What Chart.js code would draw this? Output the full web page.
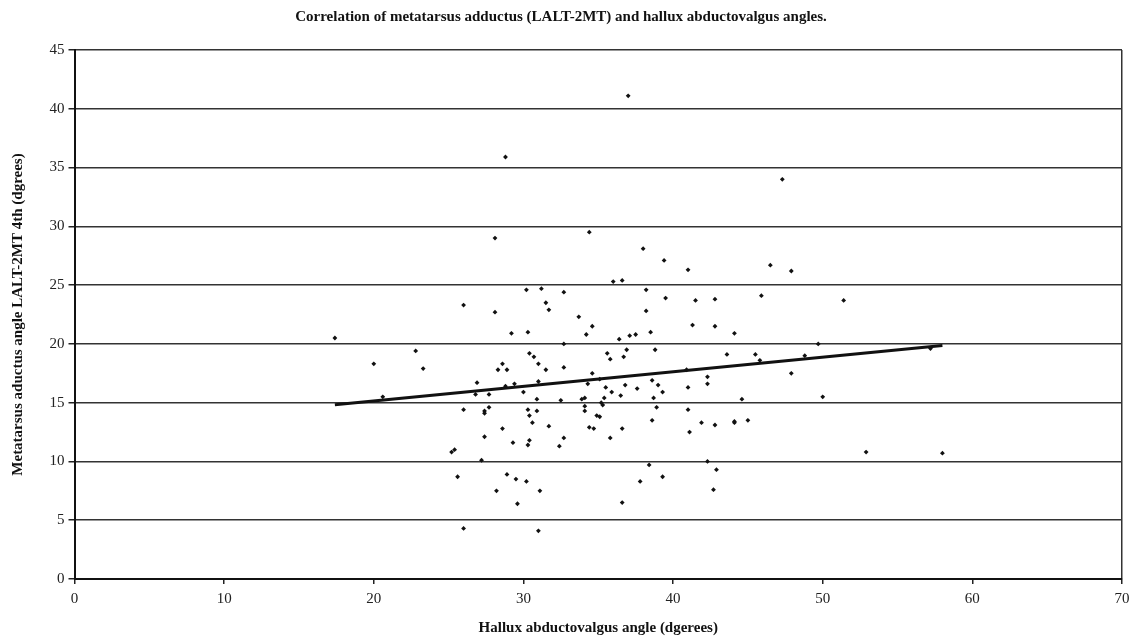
<!DOCTYPE html>
<html>
<head>
<meta charset="utf-8">
<script src="https://cdn.jsdelivr.net/npm/chart.js@4"></script>
<style>
  body { margin: 0; background: #fff; }
</style>
</head>
<body>
<canvas id="chartCanvas" width="1133" height="641"></canvas>
<script>
// Valores
const hallux = [
  28.8, 28.1, 37.0, 47.3, 34.4, 38.0, 39.4, 41.0, 46.5, 47.9,
  30.2, 31.2, 26.0, 28.1, 31.5, 31.7, 29.2, 30.3, 17.4, 22.8,
  20.0, 23.3, 30.4, 30.7, 31.0, 31.5, 28.6, 28.3, 28.9, 26.9,
  28.8, 29.4, 31.0, 26.8, 27.7, 30.0, 30.9, 20.6, 26.0, 27.4,
  27.4, 27.7, 30.3, 30.4, 30.9, 30.6, 28.6, 31.7, 27.4, 29.3,
  30.4, 30.3, 25.2, 25.4, 27.2, 25.6, 28.9, 29.5, 30.2, 28.2,
  31.1, 29.6, 26.0, 31.0, 36.0, 36.6, 32.7, 38.2, 39.5, 41.5,
  42.8, 45.9, 51.4, 33.7, 38.2, 34.6, 34.2, 41.3, 42.8, 44.1,
  38.5, 36.4, 37.1, 37.5, 32.7, 49.7, 35.6, 35.8, 36.9, 36.7,
  38.8, 43.6, 45.5, 45.8, 48.8, 32.7, 34.6, 35.1, 40.9, 42.3,
  42.3, 47.9, 34.3, 35.5, 36.8, 38.6, 39.0, 37.6, 41.0, 35.9,
  36.5, 39.3, 32.5, 33.9, 34.1, 35.4, 35.2, 35.3, 38.7, 44.6,
  50.0, 34.1, 34.1, 38.9, 41.0, 34.9, 35.1, 38.6, 41.9, 42.8,
  44.1, 44.1, 45.0, 34.4, 34.7, 36.6, 32.7, 32.4, 35.8, 41.1,
  52.9, 42.3, 38.4, 42.9, 37.8, 39.3, 42.7, 36.6, 58.0, 57.2
];
const metatarsus = [
  35.9, 29.0, 41.1, 34.0, 29.5, 28.1, 27.1, 26.3, 26.7, 26.2,
  24.6, 24.7, 23.3, 22.7, 23.5, 22.9, 20.9, 21.0, 20.5, 19.4,
  18.3, 17.9, 19.2, 18.9, 18.3, 17.8, 18.3, 17.8, 17.8, 16.7,
  16.4, 16.6, 16.8, 15.7, 15.7, 15.9, 15.3, 15.5, 14.4, 14.3,
  14.1, 14.6, 14.4, 13.9, 14.3, 13.3, 12.8, 13.0, 12.1, 11.6,
  11.8, 11.4, 10.8, 11.0, 10.1, 8.7, 8.9, 8.5, 8.3, 7.5,
  7.5, 6.4, 4.3, 4.1, 25.3, 25.4, 24.4, 24.6, 23.9, 23.7,
  23.8, 24.1, 23.7, 22.3, 22.8, 21.5, 20.8, 21.6, 21.5, 20.9,
  21.0, 20.4, 20.7, 20.8, 20.0, 20.0, 19.2, 18.7, 19.5, 18.9,
  19.5, 19.1, 19.1, 18.6, 19.0, 18.0, 17.5, 17.0, 17.8, 17.2,
  16.6, 17.5, 16.6, 16.3, 16.5, 16.9, 16.5, 16.2, 16.3, 15.9,
  15.6, 15.9, 15.2, 15.3, 15.4, 15.4, 15.0, 14.8, 15.4, 15.3,
  15.5, 14.7, 14.3, 14.6, 14.4, 13.9, 13.8, 13.5, 13.3, 13.1,
  13.4, 13.3, 13.5, 12.9, 12.8, 12.8, 12.0, 11.3, 12.0, 12.5,
  10.8, 10.0, 9.7, 9.3, 8.3, 8.7, 7.6, 6.5, 10.7, 19.6
];
// Linha de tendência (extremos)
const trendX = [17.4, 58.0];
const trendY = [14.83, 19.86];

const points = hallux.map((x, i) => ({ x: x, y: metatarsus[i] }));
const trend = trendX.map((x, i) => ({ x: x, y: trendY[i] }));

const serif = "'Liberation Serif', 'Times New Roman', serif";
Chart.defaults.font.family = serif;
Chart.defaults.color = '#222';

const ctx = document.getElementById('chartCanvas').getContext('2d');
new Chart(ctx, {
    type: 'scatter',
    data: {
        datasets: [{
            data: points,
            backgroundColor: '#111',
            borderColor: '#111',
            pointStyle: 'rectRot',
            pointRadius: 2.4,
            borderWidth: 0
        }, {
            data: trend,
            showLine: true,
            borderColor: '#111',
            borderWidth: 3,
            pointRadius: 0
        }]
    },
    options: {
        responsive: false,
        animation: false,
        layout: { padding: { left: 0, right: 11, top: 0, bottom: 0 } },
        plugins: {
            legend: { display: false },
            tooltip: { enabled: false },
            title: {
                display: true,
                text: 'Correlation of metatarsus adductus (LALT-2MT) and hallux abductovalgus angles.',
                font: { size: 15, weight: 'bold' },
                color: '#111',
                padding: { top: 8, bottom: 24 }
            }
        },
        scales: {
            x: {
                type: 'linear',
                min: 0,
                max: 70,
                ticks: { stepSize: 10, font: { size: 15 }, color: '#222', padding: 6 },
                grid: {
                    color: c => c.tick && c.tick.value === 70 ? '#333' : 'rgba(0,0,0,0)',
                    lineWidth: 1.5,
                    tickColor: '#222',
                    tickLength: 5
                },
                border: { color: '#111', width: 2 },
                title: {
                    display: true,
                    text: 'Hallux abductovalgus angle (dgerees)',
                    font: { size: 15, weight: 'bold' },
                    color: '#111',
                    padding: { top: 10 }
                },
                afterFit: s => { s.height = 62; s.paddingRight = 0; s.paddingLeft = 0; }
            },
            y: {
                min: 0,
                max: 45,
                ticks: { stepSize: 5, font: { size: 15 }, color: '#222', padding: 4 },
                grid: {
                    color: '#333',
                    lineWidth: 1.5,
                    tickColor: '#222',
                    tickLength: 6
                },
                border: { color: '#111', width: 2 },
                title: {
                    display: true,
                    text: 'Metatarsus aductus angle LALT-2MT 4th (dgrees)',
                    font: { size: 15, weight: 'bold' },
                    color: '#111',
                    padding: { top: 9, bottom: 2 }
                },
                afterFit: s => { s.width = 74.5; }
            }
        }
    }
});
</script>
</body>
</html>
